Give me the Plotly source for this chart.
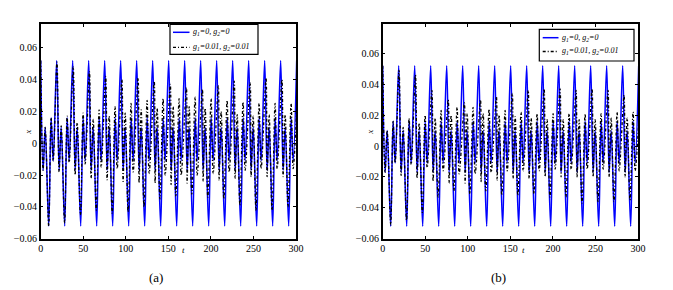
import plotly.graph_objects as go

# ---------------- data ----------------
# times of the main peaks of each oscillation cycle (last one lies past the axis end)
cycle_t = [0, 18.8, 37.6, 56.4, 75.2, 94.0, 112.8, 131.6, 150.4, 169.2,
           188.0, 206.8, 225.6, 244.4, 263.2, 282.0, 300.8]
period = 18.8

# g1=0, g2=0 (solid blue) – identical in both panels
blue_peak   = [0.052, 0.052, 0.052, 0.052, 0.052, 0.052, 0.052, 0.052, 0.052,
               0.052, 0.052, 0.052, 0.052, 0.052, 0.052, 0.052, 0.052]
blue_m1     = [-0.017, -0.017, -0.017, -0.017, -0.017, -0.017, -0.017, -0.017,
               -0.017, -0.017, -0.017, -0.017, -0.017, -0.017, -0.017, -0.017]
blue_p1     = [0.010, 0.010, 0.010, 0.010, 0.010, 0.010, 0.010, 0.010,
               0.010, 0.010, 0.010, 0.010, 0.010, 0.010, 0.010, 0.010]
blue_trough = [-0.052, -0.052, -0.052, -0.052, -0.052, -0.052, -0.052, -0.052,
               -0.052, -0.052, -0.052, -0.052, -0.052, -0.052, -0.052, -0.052]
blue_p2     = [0.016, 0.016, 0.016, 0.016, 0.016, 0.016, 0.016, 0.016,
               0.016, 0.016, 0.016, 0.016, 0.016, 0.016, 0.016, 0.016]
blue_m2     = [-0.011, -0.011, -0.011, -0.011, -0.011, -0.011, -0.011, -0.011,
               -0.011, -0.011, -0.011, -0.011, -0.011, -0.011, -0.011, -0.011]
blue_lag    = [0, 0, 0, 0, 0, 0, 0, 0, 0, 0, 0, 0, 0, 0, 0, 0, 0]

# panel (a): g1=0.01, g2=0.01 (black dash-dot)
a_peak   = [0.052, 0.051, 0.048, 0.045, 0.042, 0.040, 0.041, 0.039, 0.037,
            0.035, 0.034, 0.036, 0.039, 0.038, 0.041, 0.040, 0.040]
a_m1     = [-0.017, -0.018, -0.020, -0.022, -0.023, -0.024, -0.025, -0.025,
            -0.026, -0.025, -0.024, -0.023, -0.022, -0.021, -0.021, -0.021]
a_p1     = [0.010, 0.011, 0.013, 0.015, 0.017, 0.019, 0.021, 0.022,
            0.023, 0.023, 0.022, 0.020, 0.018, 0.017, 0.018, 0.018]
a_trough = [-0.052, -0.050, -0.045, -0.042, -0.044, -0.043, -0.040, -0.035,
            -0.033, -0.032, -0.034, -0.035, -0.039, -0.042, -0.042, -0.040]
a_p2     = [0.016, 0.017, 0.019, 0.021, 0.023, 0.025, 0.027, 0.028,
            0.028, 0.029, 0.028, 0.027, 0.026, 0.025, 0.025, 0.025]
a_m2     = [-0.011, -0.012, -0.013, -0.015, -0.016, -0.018, -0.019, -0.020,
            -0.020, -0.020, -0.019, -0.018, -0.017, -0.016, -0.016, -0.016]
a_lag    = [0, 0.3, 0.6, 0.9, 1.2, 1.4, 1.6, 1.8, 1.9, 2.0, 2.0, 1.9, 1.8,
            1.7, 1.6, 1.5, 1.5]

# panel (b): g1=0.01, g2=0.01 (black dash-dot)
b_peak   = [0.052, 0.049, 0.046, 0.036, 0.030, 0.028, 0.030, 0.032, 0.034,
            0.036, 0.037, 0.037, 0.036, 0.037, 0.036, 0.033, 0.033]
b_m1     = [-0.017, -0.019, -0.021, -0.023, -0.024, -0.024, -0.023, -0.022,
            -0.021, -0.021, -0.020, -0.020, -0.020, -0.020, -0.020, -0.020]
b_p1     = [0.010, 0.012, 0.015, 0.018, 0.020, 0.021, 0.021, 0.020,
            0.019, 0.018, 0.017, 0.017, 0.017, 0.017, 0.018, 0.018]
b_trough = [-0.051, -0.048, -0.043, -0.033, -0.029, -0.031, -0.029, -0.032,
            -0.032, -0.031, -0.033, -0.033, -0.037, -0.036, -0.036, -0.035]
b_p2     = [0.016, 0.018, 0.020, 0.023, 0.025, 0.025, 0.024, 0.023,
            0.022, 0.021, 0.021, 0.021, 0.021, 0.021, 0.022, 0.022]
b_m2     = [-0.011, -0.012, -0.014, -0.016, -0.018, -0.018, -0.017, -0.016,
            -0.016, -0.016, -0.015, -0.015, -0.015, -0.015, -0.016, -0.016]
b_lag    = [0, 0.4, 0.9, 1.4, 1.8, 2.0, 2.1, 2.0, 1.9, 1.8, 1.7, 1.6, 1.6,
            1.6, 1.6, 1.6, 1.6]

y_ticks = [-0.06, -0.04, -0.02, 0, 0.02, 0.04, 0.06]
y_tick_text = ["\u22120.06", "\u22120.04", "\u22120.02", "0", "0.02", "0.04", "0.06"]
x_ticks = [0, 50, 100, 150, 200, 250, 300]
x_tick_text = ["0", "50", "100", "150", "200", "250", "300"]

legend_a = "<i>g<sub>1</sub>=0, g<sub>2</sub>=0</i>"
legend_b = "<i>g<sub>1</sub>=0.01, g<sub>2</sub>=0.01</i>"

# position of the key points inside one cycle (fraction of the period)
F_M1, F_P1, F_P2, F_M2 = 0.15, 0.28, 0.65, 0.78


def wave(peak, m1, p1, trough, p2, m2, lag):
    ts, xs = [], []
    n = len(trough)
    for i in range(n):
        t0 = cycle_t[i]
        ts += [t0 + lag[i], t0 + F_M1 * period, t0 + F_P1 * period,
               t0 + 0.5 * period - 0.5 * lag[i], t0 + F_P2 * period,
               t0 + F_M2 * period]
        xs += [peak[i], m1[i], p1[i], trough[i], p2[i], m2[i]]
    ts.append(cycle_t[n] + lag[n])
    xs.append(peak[n])
    return ts, xs


FONT = "Liberation Serif, Times New Roman, serif"
BLUE = "#0000ff"
BLUE_W = 1.5
BLACK_W = 1.3
BLACK_DASH = "3px,2px,1px,2px"

fig = go.Figure()

panels = [
    ("x", "y", (a_peak, a_m1, a_p1, a_trough, a_p2, a_m2, a_lag)),
    ("x2", "y2", (b_peak, b_m1, b_p1, b_trough, b_p2, b_m2, b_lag)),
]
for xa, ya, black in panels:
    bt, bx = wave(blue_peak, blue_m1, blue_p1, blue_trough, blue_p2, blue_m2, blue_lag)
    fig.add_trace(go.Scatter(x=bt, y=bx, mode="lines", name=legend_a, showlegend=False,
                             line=dict(color=BLUE, width=BLUE_W, shape="spline", smoothing=1.0),
                             xaxis=xa, yaxis=ya))
    kt, kx = wave(*black)
    fig.add_trace(go.Scatter(x=kt, y=kx, mode="lines", name=legend_b, showlegend=False,
                             line=dict(color="black", width=BLACK_W, shape="spline", smoothing=1.0,
                                       dash=BLACK_DASH),
                             xaxis=xa, yaxis=ya))

W, H = 673, 290
ax_common = dict(showgrid=False, zeroline=False, showline=True, linecolor="black",
                 linewidth=1.5, mirror="ticks", ticks="inside", ticklen=3,
                 tickcolor="black", automargin=False,
                 tickfont=dict(family=FONT, size=10, color="black"))

y_bot = 1 - 238.7 / H
y_top = 1 - 24 / H
fig.update_layout(
    width=W, height=H, margin=dict(l=0, r=0, t=0, b=0),
    paper_bgcolor="white", plot_bgcolor="white", showlegend=False,
    xaxis=dict(domain=[40.7 / W, 296 / W], range=[0, 300], tickvals=x_ticks,
               ticktext=x_tick_text, anchor="y", **ax_common),
    yaxis=dict(domain=[y_bot, y_top], range=[-0.06, 0.075], tickvals=y_ticks,
               ticktext=y_tick_text, anchor="x", **ax_common),
    xaxis2=dict(domain=[382.7 / W, 638 / W], range=[0, 300], tickvals=x_ticks,
                ticktext=x_tick_text, anchor="y2", **ax_common),
    yaxis2=dict(domain=[y_bot, y_top], range=[-0.06, 0.079], tickvals=y_ticks,
                ticktext=y_tick_text, anchor="x2", **ax_common),
)

# ---- legend boxes (drawn as in the original MATLAB figure) ----
shapes = []
annotations = []
leg_font = dict(family=FONT, size=8, color="black")
# (box x0, x1, y0, y1, sample x0, x1, row1 y, row2 y) in pixels
for bx0, bx1, by0, by1, sx0, sx1, r1, r2 in [
        (170, 258, 24.3, 54.3, 173, 189.5, 32.3, 47.3),
        (539.3, 634, 29.3, 61, 542.7, 558.5, 37.7, 51.5)]:
    shapes.append(dict(type="rect", xref="paper", yref="paper",
                       x0=bx0 / W, x1=bx1 / W, y0=1 - by1 / H, y1=1 - by0 / H,
                       line=dict(color="black", width=1.2), fillcolor="white",
                       layer="above"))
    shapes.append(dict(type="line", xref="paper", yref="paper",
                       x0=sx0 / W, x1=sx1 / W, y0=1 - r1 / H, y1=1 - r1 / H,
                       line=dict(color=BLUE, width=BLUE_W), layer="above"))
    shapes.append(dict(type="line", xref="paper", yref="paper",
                       x0=sx0 / W, x1=sx1 / W, y0=1 - r2 / H, y1=1 - r2 / H,
                       line=dict(color="black", width=BLACK_W, dash=BLACK_DASH),
                       layer="above"))
    annotations.append(dict(text=legend_a, x=(sx1 + 1.5) / W, y=1 - r1 / H,
                            xref="paper", yref="paper", xanchor="left", yanchor="middle",
                            showarrow=False, font=leg_font))
    annotations.append(dict(text=legend_b, x=(sx1 + 1.5) / W, y=1 - r2 / H,
                            xref="paper", yref="paper", xanchor="left", yanchor="middle",
                            showarrow=False, font=leg_font))

ann_font = dict(family=FONT, size=9, color="black")
cap_font = dict(family=FONT, size=13, color="black")
annotations += [
    dict(text="<i>x</i>", x=28 / W, y=1 - 132.7 / H, xref="paper", yref="paper",
         xanchor="center", yanchor="middle", showarrow=False, textangle=-90, font=ann_font),
    dict(text="<i>x</i>", x=370 / W, y=1 - 132.7 / H, xref="paper", yref="paper",
         xanchor="center", yanchor="middle", showarrow=False, textangle=-90, font=ann_font),
    dict(text="<i>t</i>", x=168, y=1 - 250 / H, xref="x", yref="paper",
         xanchor="center", yanchor="middle", showarrow=False, font=ann_font),
    dict(text="<i>t</i>", x=166, y=1 - 250 / H, xref="x2", yref="paper",
         xanchor="center", yanchor="middle", showarrow=False, font=ann_font),
    dict(text="(a)", x=156 / W, y=1 - 277 / H, xref="paper", yref="paper",
         xanchor="center", yanchor="middle", showarrow=False, font=cap_font),
    dict(text="(b)", x=498 / W, y=1 - 277 / H, xref="paper", yref="paper",
         xanchor="center", yanchor="middle", showarrow=False, font=cap_font),
]
fig.update_layout(shapes=shapes, annotations=annotations)

fig.write_html("out.html", config={"displayModeBar": False},
               post_script="document.body.style.margin='0';"
                           "document.body.style.overflow='hidden';")
